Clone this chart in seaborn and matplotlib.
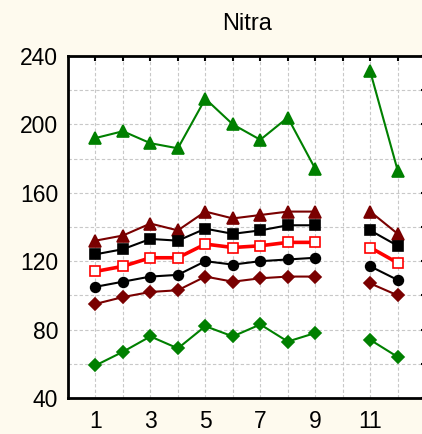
import numpy as np
import pandas as pd
import matplotlib
matplotlib.use("Agg")
import matplotlib.pyplot as plt
import seaborn as sns

months_a = [1, 2, 3, 4, 5, 6, 7, 8, 9]
months_b = [11, 12]

green_tri_a = [192, 196, 189, 186, 215, 200, 191, 204, 174]
green_tri_b = [231, 173]
red_tri_a = [132, 135, 142, 138, 149, 145, 147, 149, 149]
red_tri_b = [149, 136]
black_sq_a = [124, 127, 133, 132, 139, 136, 138, 141, 141]
black_sq_b = [138, 129]
red_osq_a = [114, 117, 122, 122, 130, 128, 129, 131, 131]
red_osq_b = [128, 119]
black_ci_a = [105, 108, 111, 112, 120, 118, 120, 121, 122]
black_ci_b = [117, 109]
red_dia_a = [95, 99, 102, 103, 111, 108, 110, 111, 111]
red_dia_b = [107, 100]
green_dia_a = [59, 67, 76, 69, 82, 76, 83, 73, 78]
green_dia_b = [74, 64]

x_tick_labels = ["1", "", "3", "", "5", "", "7", "", "9", "", "11", ""]
y_ticks = [40, 80, 120, 160, 200, 240]

series = [
    ("green_tri", green_tri_a, green_tri_b, dict(color="#008000", marker="^", ms=8, lw=1.5, mfc="#008000", mec="#008000")),
    ("red_tri", red_tri_a, red_tri_b, dict(color="#7A0000", marker="^", ms=8, lw=1.5, mfc="#7A0000", mec="#7A0000")),
    ("black_sq", black_sq_a, black_sq_b, dict(color="black", marker="s", ms=7, lw=1.5, mfc="black", mec="black")),
    ("red_osq", red_osq_a, red_osq_b, dict(color="#FF0000", marker="s", ms=7, lw=2.6, mfc="white", mec="#FF0000")),
    ("black_ci", black_ci_a, black_ci_b, dict(color="black", marker="o", ms=7, lw=1.5, mfc="black", mec="black")),
    ("red_dia", red_dia_a, red_dia_b, dict(color="#7A0000", marker="D", ms=6.5, lw=1.5, mfc="#7A0000", mec="#7A0000")),
    ("green_dia", green_dia_a, green_dia_b, dict(color="#008000", marker="D", ms=6.5, lw=1.5, mfc="#008000", mec="#008000")),
]

sns.set_style("white")
plt.rcParams['font.family'] = ['Liberation Sans', 'DejaVu Sans']

fig = plt.figure(figsize=(4.22, 4.34), dpi=100, facecolor="#FEFAEE")
ax = fig.add_axes([0.161, 0.083, 1.0095 - 0.161, 0.788])
ax.set_facecolor("white")

for name, a, b, st in series:
    for xs, ys in ((months_a, a), (months_b, b)):
        df = pd.DataFrame({"x": xs, "y": ys})
        sns.lineplot(data=df, x="x", y="y", ax=ax, color=st["color"], lw=st["lw"],
                     marker=st["marker"], markersize=st["ms"], markerfacecolor=st["mfc"],
                     markeredgecolor=st["mec"], markeredgewidth=1.2, zorder=3)

ax.set_xlim(0, 13.03)
ax.set_ylim(40, 240)
ax.set_xticks(range(1, 13))
ax.set_xticklabels(x_tick_labels)
ax.set_yticks(y_ticks)
ax.set_yticks(range(60, 240, 40), minor=True)
ax.set_xlabel("")
ax.set_ylabel("")
ax.grid(True, which="both", linestyle=(0, (3, 2)), color="#C8C8C8", lw=0.8, zorder=0)
ax.set_axisbelow(True)
ax.tick_params(axis="both", which="both", direction="in", top=True, right=True,
               length=3.6, width=1.5, color="black", labelcolor="black", labelsize=16.5)
ax.tick_params(axis="x", pad=9)
ax.tick_params(axis="y", pad=7)
for s in ax.spines.values():
    s.set_color("black")
    s.set_linewidth(2)
ax.set_title("Nitra", fontsize=17, pad=19, color="black")

fig.savefig("out.png", dpi=100, facecolor=fig.get_facecolor())
